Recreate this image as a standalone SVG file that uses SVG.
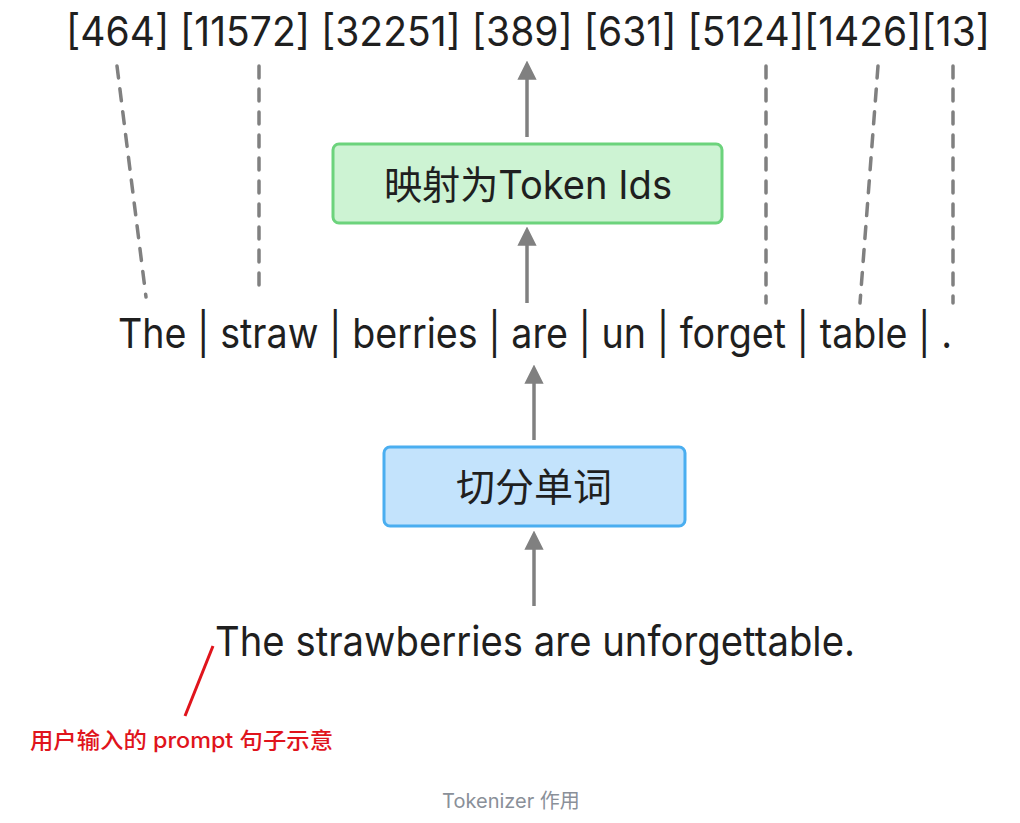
<svg xmlns="http://www.w3.org/2000/svg" width="1020" height="823" viewBox="0 0 1020 823">
<defs>
<style>
.t{font-family:Inter,"Noto Sans","Noto Sans CJK SC",sans-serif;fill:#1f1f1f}
.dash{stroke:#808080;stroke-width:3.5;stroke-dasharray:12 11;stroke-linecap:round;fill:none}
.arr{stroke:#808080;stroke-width:3.5;fill:none;marker-end:url(#ah)}
</style>
<marker id="ah" viewBox="0 0 10 10" refX="3" refY="5" markerWidth="5.5" markerHeight="5.8" orient="auto" markerUnits="strokeWidth">
<path d="M0,0 L10,5 L0,10 z" fill="#808080"/>
</marker>
</defs>
<rect width="1020" height="823" fill="#ffffff"/>
<g id="ids">
<text class="t" x="66" y="46" font-size="41" textLength="924" lengthAdjust="spacingAndGlyphs">[464] [11572] [32251] [389] [631] [5124][1426][13]</text>
</g>
<g id="connectors">
<line class="dash" x1="117" y1="66" x2="146" y2="297"/>
<line class="dash" x1="259" y1="66" x2="259" y2="290"/>
<line class="dash" x1="766" y1="66" x2="766" y2="303"/>
<line class="dash" x1="878" y1="66" x2="860" y2="303"/>
<line class="dash" x1="953" y1="66" x2="953" y2="303"/>
<line class="arr" x1="527" y1="137" x2="527" y2="74"/>
<line class="arr" x1="527" y1="303" x2="527" y2="240"/>
<line class="arr" x1="534" y1="440" x2="534" y2="378"/>
<line class="arr" x1="534" y1="606" x2="534" y2="544"/>
<line x1="213" y1="646" x2="185" y2="716" stroke="#e0141c" stroke-width="3"/>
</g>
<g id="map">
<rect x="333" y="144" width="389" height="79" rx="6" fill="#cdf3d3" stroke="#6cd37c" stroke-width="3"/>
<text class="t" x="528" y="199" font-size="39" text-anchor="middle" textLength="288" lengthAdjust="spacingAndGlyphs">映射为Token Ids</text>
</g>
<g id="tokens">
<text class="t" x="118" y="348" font-size="41" textLength="834" lengthAdjust="spacingAndGlyphs">The | straw | berries | are | un | forget | table | .</text>
</g>
<g id="split">
<rect x="384" y="447" width="301" height="79" rx="6" fill="#c3e3fc" stroke="#4aaef0" stroke-width="3"/>
<text class="t" x="534" y="501" font-size="39" text-anchor="middle">切分单词</text>
</g>
<g id="sentence">
<text class="t" x="215" y="656" font-size="41" textLength="640" lengthAdjust="spacingAndGlyphs">The strawberries are unforgettable.</text>
</g>
<g id="note">
<text x="30" y="748" font-family="Inter,'Noto Sans','Noto Sans CJK SC',sans-serif" font-size="22" font-weight="500" fill="#e0141c" textLength="303" lengthAdjust="spacingAndGlyphs">用户输入的 prompt 句子示意</text>
</g>
<g id="caption">
<text x="511" y="808" font-family="Inter,'Noto Sans','Noto Sans CJK SC',sans-serif" font-size="20" fill="#8a9099" text-anchor="middle">Tokenizer 作用</text>
</g>
</svg>
